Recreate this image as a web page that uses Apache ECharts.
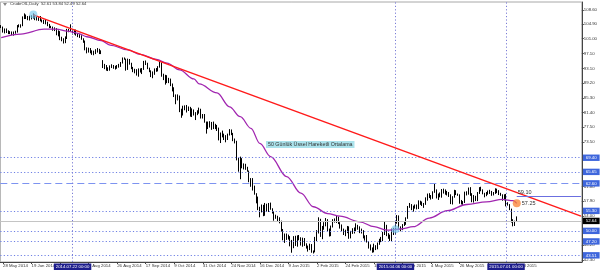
<!DOCTYPE html>
<html><head><meta charset="utf-8">
<script src="https://cdn.jsdelivr.net/npm/echarts@6/dist/echarts.min.js"></script>
<style>html,body{margin:0;padding:0;background:#fff}#c{width:600px;height:271px}</style>
</head><body><div id="c"></div>
<script>
// ---- data (CrudeOIL, Daily) ----
const startDate = [2014, 4, 27];
const holidays = ['2014-12-25', '2015-01-01', '2015-04-03'];
const totalSlots = 326;
const monthNames = ['Jan','Feb','Mar','Apr','May','Jun','Jul','Aug','Sep','Oct','Nov','Dec'];

const open = [
104.3,104.1,102.8,103.5,102.7,102.5,102.7,102.6,102.5,102.7,
104.4,104.4,104.4,106.5,106.9,106.9,106.4,107.0,106.4,107.3,
106.2,106.0,106.5,105.8,105.7,105.4,105.3,104.5,104.1,104.0,
103.5,103.4,102.3,102.9,100.8,100.9,100.0,101.2,103.2,103.1,
102.8,102.4,103.1,102.1,102.1,101.7,101.0,100.3,98.2,97.9,
98.3,97.4,96.9,97.3,97.7,98.1,97.4,94.9,93.5,93.9,
92.9,92.9,93.6,93.7,93.4,93.4,93.8,93.9,94.6,95.8,
95.6,92.9,95.5,94.4,93.3,92.3,92.7,91.7,92.8,92.3,
92.9,94.9,94.4,93.1,92.4,91.5,91.6,92.8,92.5,93.5,
94.6,91.2,90.7,91.0,89.7,90.3,88.9,87.3,85.8,85.8,
85.7,81.8,81.8,82.7,82.8,82.7,82.5,80.5,82.1,81.0,
81.0,81.4,82.2,80.1,80.5,78.8,77.2,78.7,77.9,78.7,
77.4,77.9,77.2,74.2,75.8,75.6,74.6,74.6,75.6,76.5,
75.8,74.1,73.7,69.0,66.2,69.0,66.9,67.4,66.8,65.8,
63.1,63.8,60.9,60.0,57.8,55.9,55.9,56.5,54.1,56.5,
55.3,57.1,55.8,54.7,53.6,53.9,53.3,52.7,50.0,47.9,
48.7,48.8,48.4,46.1,45.9,48.5,46.3,48.7,48.1,46.4,
47.8,46.3,45.6,45.2,46.2,44.5,44.5,48.2,49.6,53.1,
48.5,50.5,51.7,52.9,50.0,48.8,51.2,52.8,52.6,53.5,
52.1,51.2,50.3,49.5,49.8,51.0,48.2,49.8,49.6,50.5,
51.5,50.8,49.6,50.0,48.3,48.2,47.1,45.8,45.2,44.9,
45.9,45.3,46.5,47.5,47.5,49.2,51.4,48.9,48.7,47.6,
50.1,49.1,52.1,54.0,50.4,50.8,51.6,51.9,53.3,56.4,
56.7,55.7,56.4,56.6,56.2,57.7,57.2,57.0,57.1,58.6,
59.6,59.2,58.9,60.4,60.9,58.9,59.4,59.3,60.8,60.5,
59.9,59.7,59.4,57.3,59.0,60.7,59.7,59.6,57.5,57.5,
57.7,60.3,60.2,61.3,59.6,58.0,59.1,58.1,60.1,61.4,
60.8,60.0,59.5,60.0,60.5,60.4,59.6,60.0,61.0,60.3,
59.7,59.6,58.3,59.5,57.0,56.9,55.8,52.5,52.3,52.61];
const high = [
104.6,104.2,103.7,103.7,103.2,103.0,102.9,102.9,103.1,104.6,
104.8,104.8,106.9,107.7,107.4,107.0,107.1,107.2,107.7,107.4,
107.0,106.7,107.0,106.1,106.0,106.2,105.5,104.9,104.4,104.2,
104.0,103.8,103.2,103.0,101.5,101.1,101.6,103.6,103.6,104.8,
103.4,103.4,103.4,102.5,102.2,101.9,101.1,100.5,98.7,98.6,
98.5,97.9,97.8,98.2,98.5,98.3,97.9,95.3,94.3,94.0,
93.4,93.9,94.2,94.0,93.8,94.0,94.3,94.8,96.0,96.0,
95.7,95.7,95.6,94.6,93.5,93.0,92.9,93.1,93.1,93.2,
95.1,95.2,94.6,93.3,92.6,92.3,93.1,93.2,93.7,94.9,
94.7,91.7,91.4,91.3,90.6,90.4,89.1,88.1,86.2,86.2,
85.9,82.4,83.2,83.3,83.4,83.0,82.9,82.5,82.2,81.5,
82.0,82.7,82.4,81.0,81.0,79.0,79.0,79.1,78.9,79.0,
78.4,78.1,77.4,76.1,76.6,75.8,75.4,75.8,77.0,76.9,
76.0,74.5,73.9,69.4,69.7,69.3,67.9,67.8,67.0,66.0,
64.0,64.0,62.0,60.0,59.1,56.4,57.0,56.9,57.4,57.2,
57.4,57.5,56.0,55.2,54.3,54.0,53.6,52.7,50.5,49.3,
49.3,49.0,48.6,47.6,48.6,48.7,48.8,48.9,48.3,48.2,
48.1,46.7,46.1,46.6,46.5,44.8,48.4,50.2,53.6,53.2,
51.3,52.3,53.4,53.1,50.6,51.4,53.1,53.3,54.0,53.8,
52.3,51.7,50.6,50.3,51.3,51.2,50.0,50.7,50.9,52.0,
51.6,51.2,50.6,50.2,48.8,48.9,47.3,46.4,45.6,46.6,
46.2,46.9,47.9,48.4,49.7,52.5,51.6,49.4,49.0,50.6,
50.8,52.4,54.2,54.1,51.2,51.8,52.4,53.6,56.6,57.4,
57.1,56.7,57.0,57.0,58.1,58.0,57.8,57.4,58.9,59.9,
60.0,59.5,60.5,62.6,61.0,59.9,60.2,61.1,61.2,61.0,
60.6,60.3,59.7,59.2,60.9,60.8,59.9,59.7,58.2,57.9,
60.4,60.5,61.5,61.6,60.0,59.5,59.3,60.3,61.6,61.7,
61.0,60.1,60.3,60.7,60.9,60.6,60.3,61.3,61.2,60.8,
60.1,59.7,59.7,59.8,57.6,57.1,55.9,53.1,52.7,53.84];
const low = [
103.8,102.6,102.4,102.5,102.2,102.2,101.9,101.8,102.3,102.6,
104.0,103.9,104.3,106.2,106.2,105.9,105.8,106.1,106.3,105.9,
105.8,105.7,105.6,105.3,104.9,104.8,104.3,103.8,103.8,103.1,
103.0,101.9,101.6,100.6,100.3,99.7,99.8,100.9,102.7,102.9,
102.1,102.1,101.8,101.4,101.2,100.7,99.9,97.9,97.1,97.3,
97.1,96.7,96.6,96.9,97.3,96.9,96.9,93.2,92.9,92.5,
92.4,92.5,93.2,93.0,92.8,93.0,93.3,93.5,94.4,95.4,
92.5,92.7,94.1,92.9,92.1,91.8,91.2,90.9,92.0,91.6,
92.7,94.0,92.9,92.1,90.8,90.5,91.4,92.2,92.3,93.3,
90.9,90.0,88.8,89.2,89.2,88.4,87.0,85.5,83.6,84.6,
81.5,80.0,80.6,82.0,81.4,81.8,80.3,80.2,80.6,79.4,
80.7,81.1,79.8,79.8,78.7,75.8,77.0,77.4,76.8,77.0,
77.0,76.5,74.0,73.3,74.8,74.1,73.5,74.1,75.3,75.4,
73.8,73.2,68.7,65.7,63.7,66.6,66.3,66.2,65.7,62.9,
61.7,60.7,59.6,57.3,55.5,53.6,54.9,53.9,54.0,55.0,
55.0,55.6,54.6,52.7,53.2,52.4,52.0,49.8,47.5,46.8,
47.6,47.7,45.9,44.2,45.4,46.0,45.8,47.5,46.1,45.8,
46.0,45.3,44.5,44.9,44.2,44.0,44.3,47.3,49.3,48.4,
47.8,50.3,51.2,49.8,48.5,48.6,50.9,52.2,52.1,51.8,
50.6,49.9,48.9,48.6,49.4,47.9,48.0,49.2,49.3,49.9,
50.3,49.4,49.3,48.0,47.4,46.9,45.3,44.8,44.2,44.3,
44.9,45.1,46.3,47.0,47.3,48.9,48.6,47.9,47.3,47.3,
48.9,48.9,51.9,50.2,49.9,50.2,51.3,51.6,53.2,56.1,
55.5,55.1,55.9,55.7,55.8,56.9,56.6,56.1,56.9,58.0,
58.7,58.3,58.5,60.1,58.6,58.2,58.9,58.8,59.9,59.6,
59.4,59.0,57.1,57.0,58.8,59.5,59.3,57.2,57.0,56.9,
57.4,59.4,59.6,59.3,57.6,57.5,57.9,57.9,59.8,60.5,
59.7,58.9,59.2,59.6,59.8,59.3,59.4,59.8,60.0,59.5,
59.3,58.0,58.1,56.5,56.7,55.5,52.2,51.2,51.3,52.49];
const close = [
104.1,102.7,103.6,102.7,102.5,102.7,102.6,102.5,102.7,104.4,
104.4,104.4,106.5,106.9,106.9,106.4,107.0,106.4,107.3,106.2,
106.0,106.5,105.8,105.7,105.4,105.3,104.5,104.1,104.0,103.5,
103.4,102.3,102.9,100.8,100.9,100.0,101.2,103.2,103.1,104.6,
102.4,103.1,102.1,102.1,101.7,101.0,100.3,98.2,97.9,98.3,
97.4,96.9,97.3,97.7,98.1,97.4,97.6,93.5,93.9,92.9,
92.9,93.6,93.7,93.4,93.4,93.8,93.9,94.6,95.8,95.6,
92.9,95.5,94.4,93.3,92.3,92.7,91.7,92.8,92.3,92.9,
94.9,94.4,93.1,92.4,91.5,91.6,92.8,92.5,93.5,94.6,
91.2,90.7,91.0,89.7,90.3,88.9,87.3,85.8,85.8,85.7,
81.8,81.8,82.7,82.8,82.7,82.5,80.5,82.1,81.0,81.0,
81.4,82.2,80.1,80.5,78.8,77.2,78.7,77.9,78.7,77.4,
77.9,77.2,74.2,75.8,75.6,74.6,74.6,75.6,76.5,75.8,
74.1,73.7,69.0,66.2,69.0,66.9,67.4,66.8,65.8,63.1,
63.8,60.9,60.0,57.8,55.9,55.9,56.5,54.1,56.5,55.3,
57.1,55.8,54.7,53.6,53.9,53.3,52.7,50.0,47.9,48.7,
48.8,48.4,46.1,45.9,48.5,46.3,48.7,48.1,46.4,47.8,
46.3,45.6,45.2,46.2,44.5,44.5,48.2,49.6,53.1,48.5,
50.5,51.7,52.9,50.0,48.8,51.2,52.8,52.6,53.5,52.1,
51.2,50.3,49.5,49.8,51.0,48.2,49.8,49.6,50.5,51.5,
50.8,49.6,50.0,48.3,48.2,47.1,45.8,45.2,44.9,45.9,
45.3,46.5,47.5,47.5,49.2,51.4,48.9,48.7,47.6,50.1,
49.1,52.1,54.0,50.4,50.8,51.6,51.9,53.3,56.4,56.7,
55.7,56.4,56.6,56.2,57.7,57.2,57.0,57.1,58.6,59.6,
59.2,58.9,60.4,60.9,58.9,59.4,59.3,60.8,60.5,59.9,
59.7,59.4,57.3,59.0,60.7,59.7,59.6,57.5,57.5,57.7,
60.3,60.2,61.3,59.6,58.0,59.1,58.1,60.1,61.4,60.8,
60.0,59.5,60.0,60.5,60.4,59.6,60.0,61.0,60.3,59.7,
59.6,58.3,59.5,57.0,56.9,55.8,52.5,52.3,51.7,52.64];

// 50-day exponential moving average at sample bars
const emaBars = [0,11,24,31,37,43,48,56,61,71,78,87,93,100,108,111,121,128,134,140,145,151,160,168,175,183,190,201,209,216,224,231,240,250,261,272,281,287,289];
const emaVals = [101.3,102.2,103.5,103.5,103.0,102.4,101.5,100.5,99.3,98.0,96.8,95.5,94.5,92.7,90.3,89.0,86.6,82.9,80.3,77.2,73.2,69.7,64.4,60.0,56.4,54.6,53.9,52.4,51.1,50.2,50.5,51.1,53.4,55.35,57.0,57.7,58.35,58.0,57.3];

// trend line (from the June 2014 high to the right edge)
const trendFrom = [18, 107.3];
const trendTo = [325, 53.9];
// horizontal levels with price boxes
const levels = [69.40, 65.65, 62.60, 55.30, 50.00, 47.20, 43.51];
const dashedLevel = 62.60;
const trendReading = 59.10;
const emaReading = '57.25';
const bidPrice = 52.64;
// vertical time markers
const vMarks = ['2014.07.22', '2015.04.06', '2015.07.01'];
// y tick labels
const yTicks = [108.60,104.90,101.00,97.10,93.10,89.20,85.30,81.40,77.50,73.50,61.80,57.90,54.00,46.20,42.30];
const header = 'CrudeOIL,Daily  52.61 53.84 52.49 52.64';
const annotation = '50 Günlük Üssel Hareketli Ortalama';

// ---- build ----
function buildCategories() {
  const out = [];
  const d = new Date(Date.UTC(startDate[0], startDate[1], startDate[2]));
  while (out.length < totalSlots) {
    const wd = d.getUTCDay();
    const iso = d.toISOString().slice(0, 10);
    if (wd !== 0 && wd !== 6 && !holidays.includes(iso)) out.push(iso.replace(/-/g, '.'));
    d.setUTCDate(d.getUTCDate() + 1);
  }
  return out;
}
const categories = buildCategories();
const nBars = close.length;
const candles = close.map((c, i) => [open[i], c, low[i], high[i]]);
const FONT = 'Liberation Sans';
const showTick = (i) => i === 0 || (i % 16 === 1 && i < nBars);
const fmtDate = (v) => { const p = v.split('.'); return (+p[2]) + ' ' + monthNames[+p[1] - 1] + ' ' + p[0]; };

const lineBlue = '#6f80e4';
const boxBlue = '#3e66dc';
const markData = [];
levels.forEach(v => {
  markData.push({
    yAxis: v,
    lineStyle: { color: v === dashedLevel ? '#7d93f0' : lineBlue, type: v === dashedLevel ? [7, 4] : [1.2, 2.2], width: 1 },
    label: { show: true, position: 'end', formatter: v.toFixed(2), backgroundColor: boxBlue, color: '#fff',
      fontSize: 4.3, fontFamily: FONT, padding: [1.4, 3, 1, 3], distance: 1 }
  });
});
markData.push({
  yAxis: bidPrice,
  lineStyle: { color: '#c4c4c4', type: 'solid', width: 1 },
  label: { show: true, position: 'end', formatter: bidPrice.toFixed(2), backgroundColor: '#000', color: '#fff',
    fontSize: 4.3, fontFamily: FONT, padding: [1.4, 3, 1, 3], distance: 1 }
});
vMarks.forEach(v => {
  markData.push({
    xAxis: v,
    lineStyle: { color: '#7a7cd6', type: [1.2, 2.2], width: 1 },
    label: { show: true, position: 'start', formatter: v + ' 00:00', backgroundColor: '#1d1d8c', color: '#fff',
      fontSize: 4.3, fontFamily: FONT, padding: [1.4, 2, 1, 2], distance: 1.5 }
  });
});
markData.push([
  { coord: trendFrom, lineStyle: { color: '#ff1a1a', width: 1.5, type: 'solid' }, label: { show: false } },
  { coord: trendTo }
]);
markData.push([
  { coord: [nBars - 1, trendReading], lineStyle: { color: '#6b6fe0', width: 1, type: 'solid' },
    label: { show: true, position: 'insideStartTop', formatter: trendReading.toFixed(2), color: '#333',
      fontSize: 5.5, fontFamily: FONT, distance: 1 } },
  { coord: [totalSlots - 1, trendReading] }
]);

const chart = echarts.init(document.getElementById('c'), null, { renderer: 'canvas' });
chart.setOption({
  animation: false,
  backgroundColor: '#fff',
  grid: { left: 0, right: 18, top: 2, bottom: 9, show: true, borderColor: '#a8a8a8', borderWidth: 1 },
  xAxis: {
    type: 'category', data: categories, boundaryGap: true,
    axisLine: { show: true, lineStyle: { color: '#444', width: 1 } },
    axisTick: { show: true, alignWithLabel: true, interval: showTick, length: 2, lineStyle: { color: '#444' } },
    axisLabel: { interval: showTick, formatter: fmtDate, align: 'left', fontSize: 4.3, fontFamily: FONT, color: '#333', margin: 2 },
    splitLine: { show: false }
  },
  yAxis: {
    type: 'value', position: 'right', min: 41.74, max: 110.72,
    axisLine: { show: true, lineStyle: { color: '#444', width: 1 } },
    axisTick: { show: true, length: 2, customValues: yTicks, lineStyle: { color: '#444' } },
    axisLabel: { customValues: yTicks, formatter: v => v.toFixed(2), fontSize: 4.3, fontFamily: FONT, color: '#333', margin: 2 },
    splitLine: { show: false }
  },
  series: [
    {
      type: 'candlestick', data: candles, barWidth: 1.3,
      itemStyle: { color: '#ffffff', color0: '#000000', borderColor: '#000000', borderColor0: '#000000', borderWidth: 1 },
      markLine: { silent: true, symbol: ['none', 'none'], animation: false, data: markData },
      markPoint: {
        silent: true, symbol: 'circle', symbolSize: 8, animation: false,
        data: [
          { coord: [trendFrom[0], 107.4], itemStyle: { color: 'rgba(120,200,235,0.65)' }, label: { show: false } },
          { coord: [221, 50.4], itemStyle: { color: 'rgba(120,200,235,0.65)' }, label: { show: false } }
        ]
      }
    },
    {
      type: 'line', data: emaBars.map((b, k) => [b, emaVals[k]]), smooth: 0.35, smoothMonotone: 'x',
      showSymbol: false, lineStyle: { color: '#a126b0', width: 1.3 }, z: 3,
      markPoint: {
        silent: true, symbol: 'circle', symbolSize: 8, animation: false,
        data: [{ coord: [emaBars[emaBars.length - 1], emaVals[emaVals.length - 1]], itemStyle: { color: 'rgba(250,130,50,0.75)' },
          label: { show: true, position: 'right', formatter: emaReading, color: '#333', fontSize: 5.5, fontFamily: FONT, distance: 1 } }]
      }
    }
  ],
  graphic: [
    { type: 'polygon', shape: { points: [[3, 3], [7, 3], [5, 6]] }, style: { fill: '#888' } },
    { type: 'text', left: 10, top: 2, style: { text: header, fontSize: 4.2, fontFamily: FONT, fill: '#333' } },
    { type: 'text', left: 266, top: 141, style: { text: annotation, fontSize: 5.3, fontFamily: FONT, fill: '#333',
      backgroundColor: '#abe3ec', padding: [1, 2] } }
  ]
});
</script>
</body></html>
